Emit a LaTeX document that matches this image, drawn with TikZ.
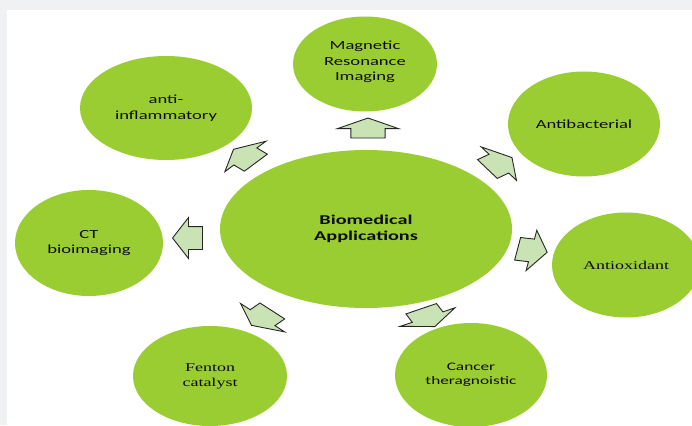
\documentclass[tikz,border=0pt]{standalone}
\usepackage{fontspec}
\setmainfont{Carlito}[FakeStretch=1.5]
\newfontfamily\timesfont{Liberation Serif}[FakeStretch=1.5]
\usepackage{tikz}
\usetikzlibrary{shapes.geometric,shapes.arrows}
\definecolor{LeafGreen}{HTML}{9ACD32}
\definecolor{PaleGreen}{HTML}{C9E3B5}
\definecolor{PageGray}{HTML}{F0F1F3}
\tikzset{
  blob/.style={ellipse,fill=LeafGreen,inner sep=0pt,align=center,text=black!95,
               font=\fontsize{12.4}{15.5}\selectfont},
  pointer/.style={single arrow,draw=black!85,fill=PaleGreen,line width=0.9pt,
               minimum height=20pt,minimum width=40pt,inner xsep=0pt,inner ysep=11pt,
               single arrow head extend=9pt,single arrow tip angle=125,
               xscale=1.5,rotate=#1}
}

\begin{document}
\begin{tikzpicture}[x=1pt,y=-1pt]
\useasboundingbox (0,0) rectangle (692,425);
\clip (0,0) rectangle (692,425);
\fill[PageGray] (0,0) rectangle (692,425);
\fill[white] (7,10) rectangle (692,425);

\node[blob,minimum width=292pt,minimum height=158pt,
      font=\bfseries\fontsize{13.5}{16}\selectfont] (bio) at (366,229) {Biomedical\\Applications};
\node[blob,minimum width=144pt,minimum height=95pt] (mri) at (365,64) {Magnetic\\Resonance\\Imaging\\[-9.5pt]};
\node[blob,minimum width=172pt,minimum height=104pt] (anti) at (166,108) {anti-\\inflammatory};
\node[blob,minimum width=152pt,minimum height=105pt] (bact) at (584,124) {Antibacterial};
\node[blob,minimum width=148pt,minimum height=106pt] (ct) at (89,243) {CT\\bioimaging};
\node[blob,minimum width=148pt,minimum height=105pt,
      font=\timesfont\fontsize{12}{15}\selectfont] (oxi) at (626,265) {Antioxidant};
\node[blob,minimum width=154pt,minimum height=100pt,
      font=\timesfont\fontsize{12}{15}\selectfont] (fenton) at (210,376) {Fenton\\catalyst};
\node[blob,minimum width=152pt,minimum height=104pt,
      font=\fontsize{11.5}{14}\selectfont] (cancer) at (471,375) {Cancer\\theragnoistic};

% block arrows from the centre outwards
\node[pointer=90] (toMRI) at (368,131) {};
\node[pointer=138] (toAnti) at (248,158) {};
\node[pointer=180] (toCT) at (192,238) {};
\node[pointer=226] (toFenton) at (265,316) {};
\node[pointer=-63] (toCancer) at (426,315) {};
\node[pointer=-10] (toOxi) at (528,250) {};
\node[pointer=35] (toBact) at (496,165) {};
\end{tikzpicture}
\end{document}
